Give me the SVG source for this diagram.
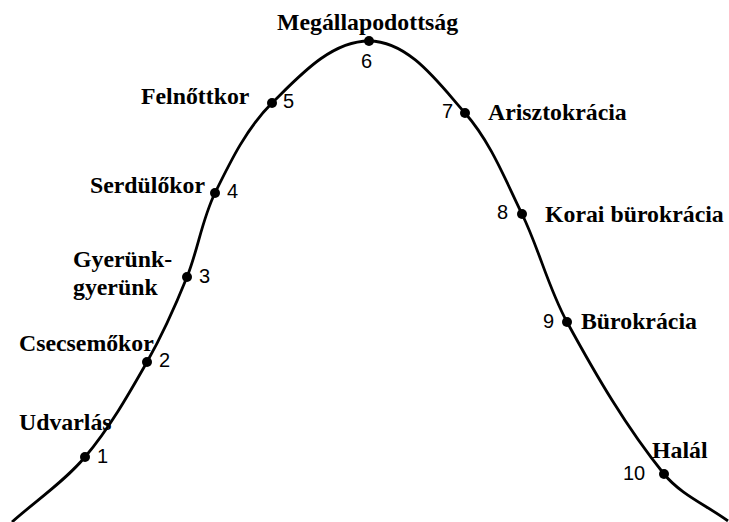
<svg xmlns="http://www.w3.org/2000/svg" width="729" height="522" viewBox="0 0 729 522">
<style>
.lbl{font-family:"Liberation Serif","Times New Roman",serif;font-weight:bold;font-size:23.8px;fill:#000}
.num{font-family:"Liberation Sans",Arial,sans-serif;font-size:20px;fill:#000}
.dot{fill:#000}
.curve{fill:none;stroke:#000;stroke-width:2.8}
</style>
<rect width="729" height="522" fill="#fff"/>
<g id="connectors">
<path class="curve" d="M12,522 C36.4,500.3 63.9,482 85,457 C109.4,428.1 128.4,394.8 147,362 C162.4,334.8 175.3,306 187,277 C198,249.6 202,219.5 215,193 C230.6,161.1 246.7,128 272,103 C299.3,76.1 330.7,41 369,41 C409,41 438.5,83 465,113 C490.6,142 505,179.2 522,214 C539.1,249.1 548.3,287.8 567,322 C595.7,374.7 626.3,427.4 664,474 C680.5,494.4 706.7,505.4 728,521"/>
</g>
<g id="node1"><circle class="dot" cx="85" cy="457" r="5"/><text class="num" x="97" y="463">1</text><text class="lbl" x="19" y="430">Udvarlás</text></g>
<g id="node2"><circle class="dot" cx="147" cy="362" r="5"/><text class="num" x="159" y="367">2</text><text class="lbl" x="19" y="351">Csecsemőkor</text></g>
<g id="node3"><circle class="dot" cx="187" cy="277" r="5"/><text class="num" x="199" y="283">3</text><text class="lbl" x="73" y="267">Gyerünk-</text><text class="lbl" x="73" y="295">gyerünk</text></g>
<g id="node4"><circle class="dot" cx="215" cy="193" r="5"/><text class="num" x="227" y="198">4</text><text class="lbl" x="90" y="193">Serdülőkor</text></g>
<g id="node5"><circle class="dot" cx="272" cy="103" r="5"/><text class="num" x="283" y="108">5</text><text class="lbl" x="141" y="104">Felnőttkor</text></g>
<g id="node6"><circle class="dot" cx="369" cy="41" r="5"/><text class="num" x="361" y="68">6</text><text class="lbl" x="277" y="30">Megállapodottság</text></g>
<g id="node7"><circle class="dot" cx="465" cy="113" r="5"/><text class="num" x="442" y="118">7</text><text class="lbl" x="488" y="120">Arisztokrácia</text></g>
<g id="node8"><circle class="dot" cx="522" cy="214" r="5"/><text class="num" x="497" y="219">8</text><text class="lbl" x="545" y="222">Korai bürokrácia</text></g>
<g id="node9"><circle class="dot" cx="567" cy="322" r="5"/><text class="num" x="543" y="328">9</text><text class="lbl" x="581" y="329">Bürokrácia</text></g>
<g id="node10"><circle class="dot" cx="664" cy="474" r="5"/><text class="num" x="623" y="480">10</text><text class="lbl" x="652" y="458">Halál</text></g>
</svg>
